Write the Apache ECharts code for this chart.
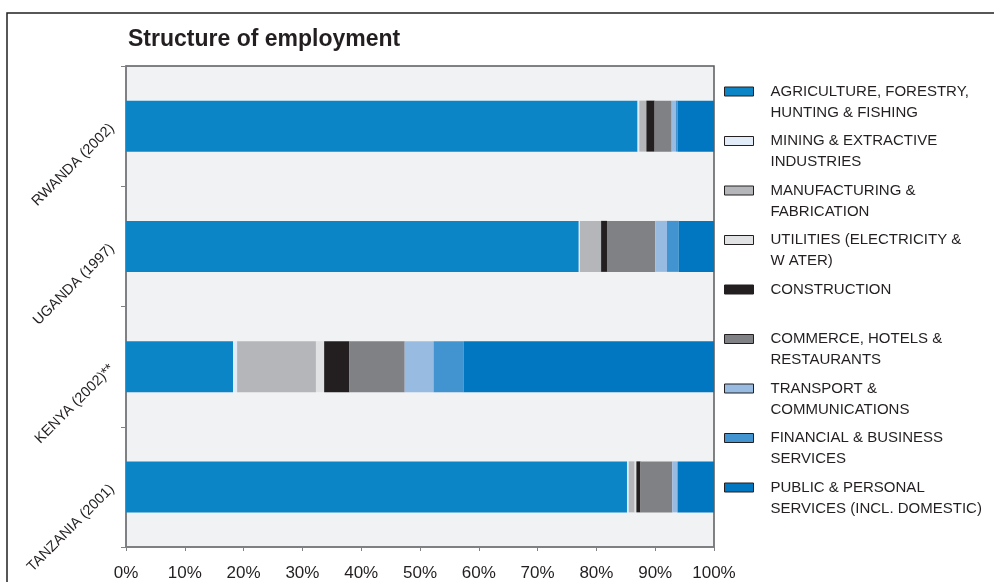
<!DOCTYPE html>
<html>
<head>
<meta charset="utf-8">
<script src="https://cdn.jsdelivr.net/npm/echarts@6/dist/echarts.min.js"></script>
<style>
  html, body { margin: 0; padding: 0; background: #fff; }
  #chart { width: 994px; height: 582px; }
</style>
</head>
<body>
<div id="chart"></div>
<script>
// categories, top to bottom
const countries = ["RWANDA (2002)", "UGANDA (1997)", "KENYA (2002)**", "TANZANIA (2001)"];
const xTicks = [0, 10, 20, 30, 40, 50, 60, 70, 80, 90, 100];

// share of employment by sector (%)
const agriculture   = [87.0, 77.0, 18.2, 85.2];
const mining        = [0.3, 0.2, 0.7, 0.3];
const manufacturing = [1.2, 3.6, 13.4, 1.0];
const utilities     = [0.0, 0.0, 1.4, 0.3];
const construction  = [1.4, 1.0, 4.3, 0.7];
const commerce      = [2.9, 8.2, 9.4, 5.4];
const transport     = [0.7, 2.0, 4.9, 0.9];
const financial     = [0.3, 2.0, 5.1, 0.0];
const publicServ    = [6.2, 6.0, 42.6, 6.2];

const sectors = [
  { name: "AGRICULTURE, FORESTRY,\nHUNTING & FISHING", data: agriculture, color: "#0c85c7" },
  { name: "MINING & EXTRACTIVE\nINDUSTRIES", data: mining, color: "#e2ecf8" },
  { name: "MANUFACTURING &\nFABRICATION", data: manufacturing, color: "#b5b6b9" },
  { name: "UTILITIES (ELECTRICITY &\nW ATER)", data: utilities, color: "#e1e2e4" },
  { name: "CONSTRUCTION\n", data: construction, color: "#231f20" },
  { name: "COMMERCE, HOTELS &\nRESTAURANTS", data: commerce, color: "#808184" },
  { name: "TRANSPORT &\nCOMMUNICATIONS", data: transport, color: "#98bbe2" },
  { name: "FINANCIAL & BUSINESS\nSERVICES", data: financial, color: "#4294d0" },
  { name: "PUBLIC & PERSONAL\nSERVICES (INCL. DOMESTIC)", data: publicServ, color: "#0077c0" }
];

const font = "'Liberation Sans', Arial, sans-serif";
const chart = echarts.init(document.getElementById("chart"));

chart.setOption({
  animation: false,
  textStyle: { fontFamily: font, color: "#231f20" },
  title: {
    text: "Structure of employment",
    left: 123, top: 23,
    textStyle: { fontSize: 23, fontWeight: "bold", color: "#231f20", fontFamily: font }
  },
  // outer frame
  graphic: [{
    type: "rect",
    shape: { x: 7, y: 13, width: 1100, height: 700 },
    style: { fill: null, stroke: "#231f20", lineWidth: 1.5 },
    silent: true
  }],
  grid: {
    left: 126, right: 280, top: 66, bottom: 33,
    show: true, backgroundColor: "#f1f2f4",
    borderColor: "#58595b", borderWidth: 1.5
  },
  legend: {
    orient: "vertical",
    left: 724, top: 60,
    padding: 0,
    itemWidth: 29, itemHeight: 9,
    itemGap: -13.5,
    icon: "rect",
    itemStyle: { borderColor: "#231f20", borderWidth: 1 },
    // leading empty line keeps the icon level with the first text line
    formatter: name => "\n" + name,
    textStyle: {
      fontSize: 15, color: "#231f20", fontFamily: font,
      lineHeight: 21, padding: [0, 0, 0, 12]
    },
    data: sectors.map(s => s.name)
  },
  xAxis: {
    type: "value",
    min: 0, max: 100, interval: 10,
    axisLine: { show: true, lineStyle: { color: "#808184", width: 1.5 } },
    axisTick: { show: true, length: 4, lineStyle: { color: "#808184" } },
    splitLine: { show: false },
    axisLabel: {
      fontSize: 17, color: "#231f20", margin: 18, fontFamily: font,
      formatter: v => xTicks.includes(v) ? v + "%" : ""
    }
  },
  yAxis: {
    type: "category",
    inverse: true,
    data: countries,
    axisLine: { show: true, lineStyle: { color: "#808184", width: 1.5 } },
    axisTick: { show: true, length: 5, lineStyle: { color: "#808184" } },
    axisLabel: { rotate: 45, fontSize: 14.5, color: "#231f20", margin: 14, fontFamily: font }
  },
  series: sectors.map(s => ({
    name: s.name,
    type: "bar",
    stack: "total",
    barWidth: 51,
    data: s.data,
    itemStyle: { color: s.color }
  }))
});
</script>
</body>
</html>
